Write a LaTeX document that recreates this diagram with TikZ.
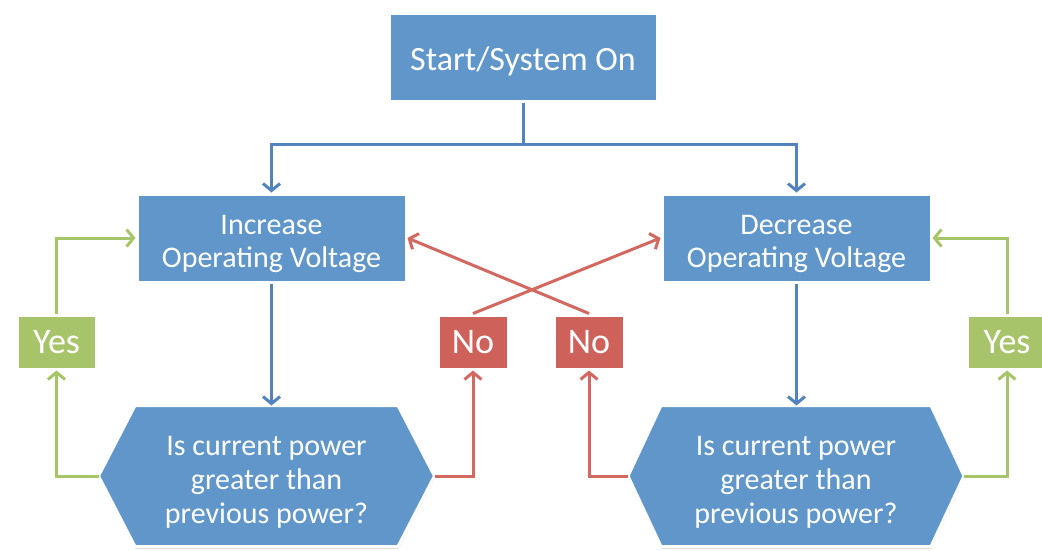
\documentclass[tikz,border=0pt]{standalone}
\usepackage{fontspec}
\setmainfont{Carlito}
\usetikzlibrary{arrows.meta,shadows,backgrounds}
\definecolor{boxblue}{RGB}{96,150,201}
\definecolor{lineblue}{RGB}{82,131,191}
\definecolor{boxred}{RGB}{206,98,90}
\definecolor{linered}{RGB}{210,104,96}
\definecolor{boxgreen}{RGB}{168,196,106}
\definecolor{linegreen}{RGB}{166,196,104}
\newcommand\lowtxt[2]{\raisebox{-#1}[\height][\depth]{\begin{tabular}{@{}c@{}}#2\end{tabular}}}
\tikzset{
  shade/.style={drop shadow={shadow xshift=0.6pt,shadow yshift=-2pt,opacity=0.22,fill=black}},
  base/.style={draw=white,line width=3pt,text=white,inner sep=0pt,align=center,shade},
  bluebox/.style={base,fill=boxblue,minimum width=269pt,minimum height=88pt,font=\fontsize{30}{33}\selectfont},
  startbox/.style={base,fill=boxblue,minimum width=268pt,minimum height=88pt,font=\fontsize{34}{38}\selectfont},
  nobox/.style={base,fill=boxred,minimum width=70pt,minimum height=54pt,font=\fontsize{36}{38}\selectfont},
  yesbox/.style={base,fill=boxgreen,minimum width=79pt,minimum height=54pt,font=\fontsize{36}{38}\selectfont},
  hextext/.style={text=white,inner sep=0pt,outer sep=1.5pt,align=center,minimum width=333pt,minimum height=138pt,font=\fontsize{30}{34}\selectfont},
  hexfill/.style={fill=boxblue,draw=white,line width=3pt,line join=miter,shade},
  conn/.style={line width=3pt,-{Straight Barb[length=7pt,width=17pt,line width=3pt]}},
  bline/.style={conn,draw=lineblue},
  rline/.style={conn,draw=linered},
  gline/.style={conn,draw=linegreen},
}
\begin{document}
\begin{tikzpicture}[x=1pt,y=-1pt]
\useasboundingbox (0,0) rectangle (1042,550);
\node[startbox] (start) at (523,57) {\lowtxt{6pt}{Start/System On}};
\node[bluebox] (inc) at (271.5,238) {\lowtxt{6pt}{Increase\\Operating Voltage}};
\node[bluebox] (dec) at (796.5,238) {\lowtxt{6pt}{Decrease\\Operating Voltage}};
\node[hextext] (q1) at (266.5,476) {\lowtxt{7pt}{Is current power\\greater than\\previous power?}};
\node[hextext] (q2) at (796,476) {\lowtxt{7pt}{Is current power\\greater than\\previous power?}};
\begin{scope}[on background layer]
\path[hexfill] ([xshift=36.5pt]q1.north west) -- ([xshift=-36.5pt]q1.north east) -- (q1.east) -- ([xshift=-36.5pt]q1.south east) -- ([xshift=36.5pt]q1.south west) -- (q1.west) -- cycle;
\path[hexfill] ([xshift=33pt]q2.north west) -- ([xshift=-33pt]q2.north east) -- (q2.east) -- ([xshift=-33pt]q2.south east) -- ([xshift=33pt]q2.south west) -- (q2.west) -- cycle;
\end{scope}
\node[yesbox] (yes1) at (56.5,342) {\lowtxt{4pt}{Yes}};
\node[nobox] (no1) at (473,342) {\lowtxt{4pt}{No}};
\node[nobox] (no2) at (589,342) {\lowtxt{4pt}{No}};
\node[yesbox,minimum width=80pt] (yes2) at (1007,342) {\lowtxt{4pt}{Yes}};
\coordinate (split) at (523,144);
\draw[line width=3pt,lineblue] (start.south) -- (split);
\draw[bline] (split) -| (inc.north);
\draw[bline] (split) -| (dec.north);
\draw[bline] (inc.south) -- (inc.south |- q1.north);
\draw[bline] (dec.south) -- (dec.south |- q2.north);
\draw[gline] (q1.west) -| (yes1.south);
\draw[gline] (yes1.north) |- (inc.west);
\draw[gline] (q2.east) -| (yes2.south);
\draw[gline] (yes2.north) |- (dec.east);
\draw[rline] (q1.east) -| (no1.south);
\draw[rline] (q2.west) -| (no2.south);
\draw[rline] (no1.north) -- (dec.west);
\draw[rline] (no2.north) -- (inc.east);
\end{tikzpicture}
\end{document}
